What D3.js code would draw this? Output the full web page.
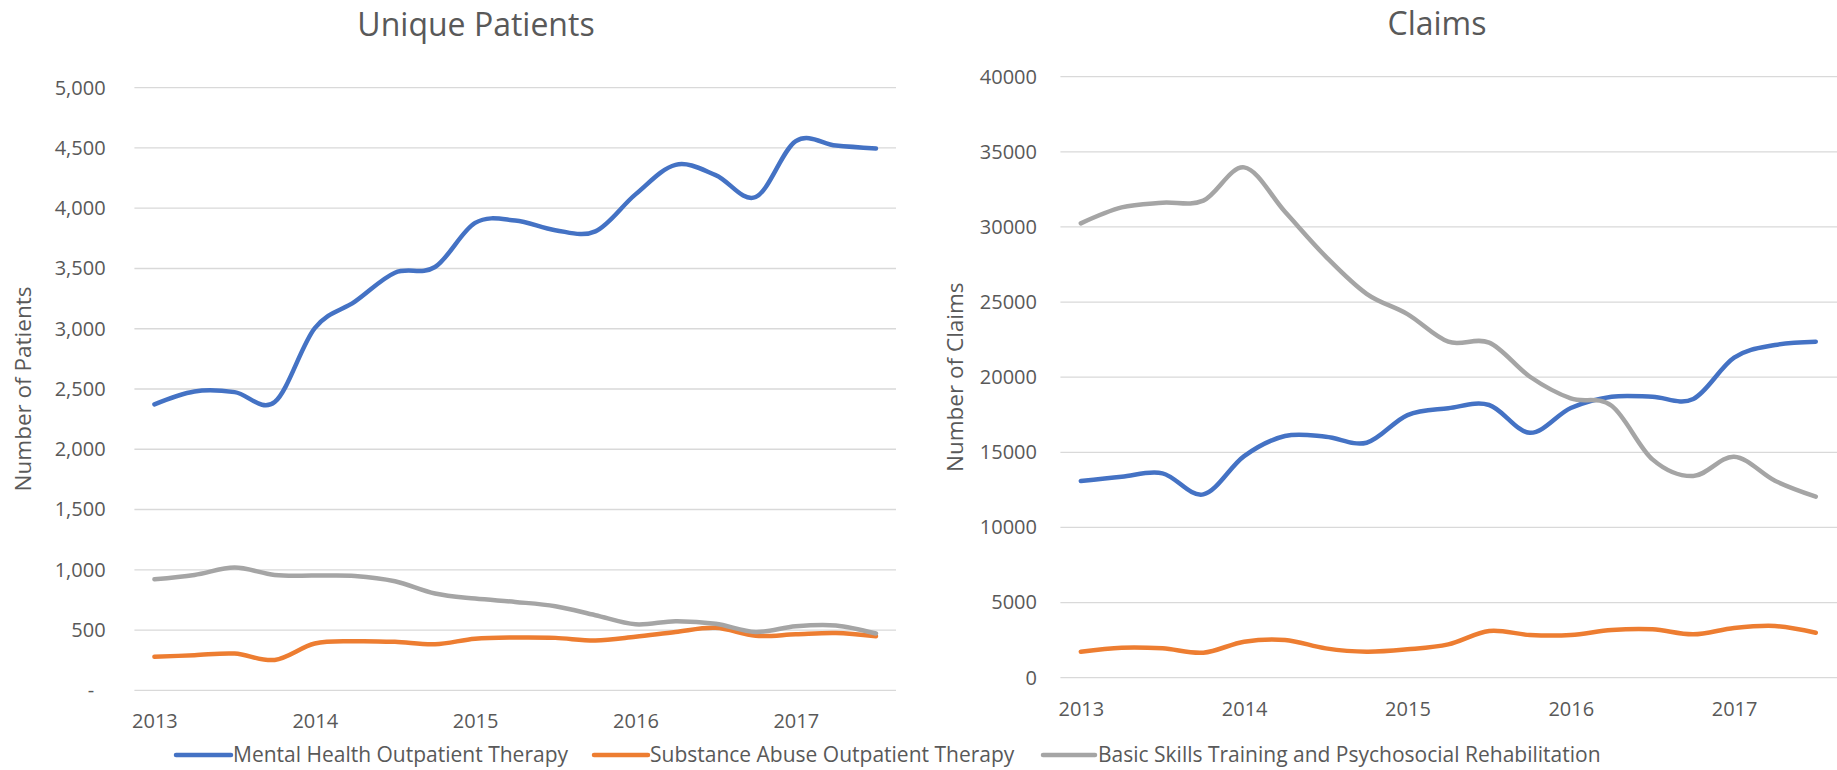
<!DOCTYPE html>
<html>
<head>
<meta charset="utf-8">
<script src="https://cdn.jsdelivr.net/npm/d3@7"></script>
<style>
  html, body { margin: 0; padding: 0; background: #ffffff; }
  svg { display: block; }
  text { font-family: "Open Sans", "Noto Sans", sans-serif; fill: #595959; }
</style>
</head>
<body>
<svg id="chart" width="1837" height="770"></svg>
<script>
// ---------- data ----------
const quarters = [
  "2013 Q1","2013 Q2","2013 Q3","2013 Q4",
  "2014 Q1","2014 Q2","2014 Q3","2014 Q4",
  "2015 Q1","2015 Q2","2015 Q3","2015 Q4",
  "2016 Q1","2016 Q2","2016 Q3","2016 Q4",
  "2017 Q1","2017 Q2","2017 Q3"
];
const yearTicks = ["2013 Q1","2014 Q1","2015 Q1","2016 Q1","2017 Q1"];
const yearLabels = ["2013","2014","2015","2016","2017"];

const seriesNames = [
  "Mental Health Outpatient Therapy",
  "Substance Abuse Outpatient Therapy",
  "Basic Skills Training and Psychosocial Rehabilitation"
];
const seriesColors = ["#4472C4", "#ED7D31", "#A5A5A5"];

// Unique Patients
const mentalHealthPatients   = [2373, 2480, 2474, 2392, 3005, 3225, 3465, 3512, 3878, 3898, 3818, 3808, 4115, 4360, 4275, 4093, 4557, 4520, 4495];
const substanceAbusePatients = [278, 291, 305, 252, 388, 407, 402, 382, 428, 438, 435, 413, 444, 484, 518, 452, 465, 476, 449];
const basicSkillsPatients    = [921, 957, 1018, 957, 952, 949, 905, 803, 761, 733, 698, 623, 548, 573, 552, 484, 532, 538, 471];

// Claims
const mentalHealthClaims   = [13090, 13380, 13600, 12200, 14750, 16085, 16040, 15640, 17480, 17930, 18150, 16300, 17950, 18700, 18700, 18550, 21300, 22140, 22360];
const substanceAbuseClaims = [1730, 2000, 1953, 1664, 2396, 2509, 1953, 1730, 1890, 2221, 3108, 2842, 2842, 3174, 3219, 2885, 3308, 3441, 2995];
const basicSkillsClaims    = [30240, 31300, 31610, 31750, 33965, 31010, 28030, 25550, 24200, 22360, 22300, 20030, 18590, 18100, 14530, 13420, 14710, 13110, 12050];

const patientTicks = [0, 500, 1000, 1500, 2000, 2500, 3000, 3500, 4000, 4500, 5000];
const claimTicks   = [0, 5000, 10000, 15000, 20000, 25000, 30000, 35000, 40000];

// ---------- drawing ----------
const svg = d3.select("#chart");
svg.append("rect").attr("width", 1837).attr("height", 770).attr("fill", "#ffffff");

function drawPanel(cfg) {
  const g = svg.append("g");
  const x = d3.scalePoint().domain(quarters).range([cfg.left, cfg.right]).padding(0.5);
  const y = d3.scaleLinear().domain([0, cfg.max]).range([cfg.bottom, cfg.top]);

  // gridlines
  g.append("g").selectAll("line").data(cfg.ticks).join("line")
    .attr("x1", cfg.left).attr("x2", cfg.gridRight)
    .attr("y1", d => y(d)).attr("y2", d => y(d))
    .attr("stroke", "#d9d9d9").attr("stroke-width", 1.3);

  // y axis labels
  const yAxis = d3.axisLeft(y).tickValues(cfg.ticks).tickFormat(cfg.fmt).tickSize(0).tickPadding(0);
  const ya = g.append("g").attr("transform", `translate(${cfg.yLabelX},0)`).call(yAxis);
  ya.select(".domain").remove();
  ya.selectAll("text").attr("font-size", 20).attr("fill", "#595959")
    .style("font-family", '"Open Sans", sans-serif');

  // x axis labels
  const xAxis = d3.axisBottom(x).tickValues(yearTicks)
    .tickFormat(d => yearLabels[yearTicks.indexOf(d)]).tickSize(0).tickPadding(0);
  const xa = g.append("g").attr("transform", `translate(0,${cfg.xLabelY})`).call(xAxis);
  xa.select(".domain").remove();
  xa.selectAll("text").attr("font-size", 20).attr("fill", "#595959").attr("dy", 0)
    .style("font-family", '"Open Sans", sans-serif');

  // lines (Excel-style smoothing)
  const line = d3.line()
    .x((d, i) => x(quarters[i]))
    .y(d => y(d))
    .curve(d3.curveCardinal.tension(0));
  cfg.series.forEach((s, k) => {
    g.append("path").datum(s)
      .attr("d", line)
      .attr("fill", "none")
      .attr("stroke", seriesColors[k])
      .attr("stroke-width", 4.5)
      .attr("stroke-linecap", "round")
      .attr("stroke-linejoin", "round");
  });

  // title
  g.append("text").attr("x", cfg.titleX).attr("y", cfg.titleY)
    .attr("text-anchor", "middle").attr("font-size", 32).text(cfg.title);

  // axis title
  g.append("text")
    .attr("transform", `translate(${cfg.axisTitleX},${(cfg.top + cfg.bottom) / 2}) rotate(-90)`)
    .attr("text-anchor", "middle").attr("font-size", 22.5).text(cfg.axisTitle);
}

const commaFmt = d3.format(",");
drawPanel({
  left: 134.4, right: 896, gridRight: 896, top: 87.7, bottom: 690.3, max: 5000,
  ticks: patientTicks,
  fmt: d => d === 0 ? "-\u2007" : commaFmt(d),
  yLabelX: 105.6, xLabelY: 728,
  series: [mentalHealthPatients, substanceAbusePatients, basicSkillsPatients],
  title: "Unique Patients", titleX: 476, titleY: 36,
  axisTitle: "Number of Patients", axisTitleX: 31
});

drawPanel({
  left: 1060.4, right: 1836.2, gridRight: 1837, top: 76.7, bottom: 677.7, max: 40000,
  ticks: claimTicks,
  fmt: d => String(d),
  yLabelX: 1037, xLabelY: 716,
  series: [mentalHealthClaims, substanceAbuseClaims, basicSkillsClaims],
  title: "Claims", titleX: 1437, titleY: 35,
  axisTitle: "Number of Claims", axisTitleX: 963
});

// legend
const legendItems = [
  { x1: 176, x2: 231, tx: 233 },
  { x1: 594, x2: 648, tx: 650 },
  { x1: 1043, x2: 1095, tx: 1098 }
];
const lg = svg.append("g");
seriesNames.forEach((name, k) => {
  const it = legendItems[k];
  lg.append("line").attr("x1", it.x1).attr("x2", it.x2).attr("y1", 755).attr("y2", 755)
    .attr("stroke", seriesColors[k]).attr("stroke-width", 4.5).attr("stroke-linecap", "round");
  lg.append("text").attr("x", it.tx).attr("y", 762).attr("font-size", 21).text(name);
});
</script>
</body>
</html>
